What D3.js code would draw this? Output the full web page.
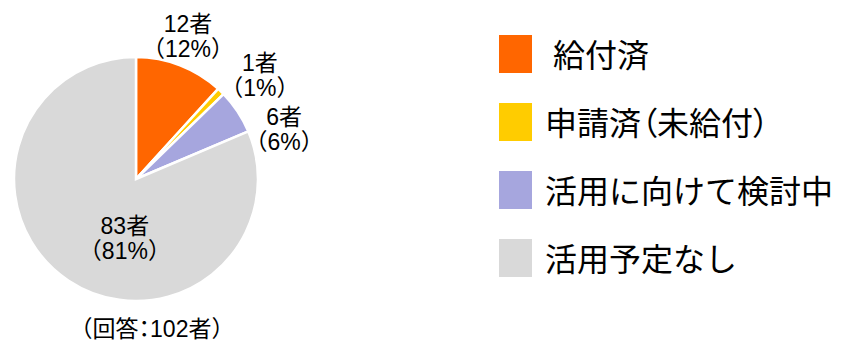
<!DOCTYPE html>
<html lang="ja">
<head>
<meta charset="utf-8">
<title>pie</title>
<script src="https://cdn.jsdelivr.net/npm/d3@7"></script>
<style>
  body { margin: 0; background: #fff; }
  text { font-family: "Liberation Sans", Arial, "Noto Sans CJK JP", sans-serif; fill: #000; }
  .palt { font-feature-settings: "palt"; }
</style>
</head>
<body>
<div id="chart"></div>
<script>
// data
var categories = ["給付済", "申請済（未給付）", "活用に向けて検討中", "活用予定なし"]
var counts = [12, 1, 6, 83]
var percents = [12, 1, 6, 81]
var colors = ["#FF6600", "#FFCC00", "#A6A6DE", "#D9D9D9"]
var total = 102

var w = 844, h = 342
var cx = 136, cy = 179, r = 122

var svg = d3.select("#chart").append("svg")
  .attr("width", w).attr("height", h)

var pie = d3.pie().sort(null).value(function(d){ return d })
var arcs = pie(counts)

var arc = d3.arc().innerRadius(0).outerRadius(r)

var g = svg.append("g").attr("transform", "translate(" + cx + "," + cy + ")")

g.selectAll("path")
  .data(arcs)
  .enter()
  .append("path")
  .attr("d", arc)
  .attr("fill", function(d, i){ return colors[i] })
  .attr("stroke", "#fff")
  .attr("stroke-width", 2.5)
  .attr("stroke-linejoin", "miter")

// labels: outside slices on a bigger arc, last one inside
var outArc = d3.arc().innerRadius(155).outerRadius(155)
var inArc = d3.arc().innerRadius(60).outerRadius(60)
// little hand nudges, like the original placed them
var nudge = [[-4, 2], [16, 7.5], [19, 36.5], [22, 9]]

// small helper: split brackets / colon out so only they get tight spacing
function tightMarks(sel, str){
  str.split(/(（|）|：)/).forEach(function(part){
    if (!part) return
    sel.append("tspan")
      .attr("class", part == "：" ? "palt" : null)
      .text(part)
  })
}

arcs.forEach(function(a, i){
  var c = (i < 3 ? outArc : inArc).centroid(a)
  var x = c[0] + nudge[i][0], y = c[1] + nudge[i][1]
  var t = g.append("text")
    .attr("text-anchor", "middle")
    .attr("font-size", 23)
  t.append("tspan").attr("x", x).attr("y", y - 12.5).attr("dy", "0.35em").text(counts[i] + "者")
  t.append("tspan").attr("x", x).attr("y", y + 12.5).attr("dy", "0.35em").text("（" + percents[i] + "%）")
})

var foot = svg.append("text")
  .attr("x", 152).attr("y", 329)
  .attr("dy", "0.35em")
  .attr("text-anchor", "middle")
  .attr("font-size", 23)
tightMarks(foot, "（回答：" + total + "者）")

// legend
var legend = svg.append("g").attr("transform", "translate(499,35)")
var rows = legend.selectAll("g")
  .data(categories)
  .enter()
  .append("g")
  .attr("transform", function(d, i){ return "translate(0," + (i * 68) + ")" })

rows.append("rect")
  .attr("width", 33).attr("height", 38)
  .attr("fill", function(d, i){ return colors[i] })

rows.append("text")
  .attr("x", function(d, i){ return i == 0 ? 54 : 46 })
  .attr("y", 20)
  .attr("dy", "0.36em")
  .attr("font-size", 32)
  .style("font-family", "'Noto Sans CJK JP', sans-serif")
  .each(function(d){
    // only the brackets get the tight spacing, the kana keep full width
    var el = d3.select(this)
    d.split(/(（|）)/).forEach(function(part){
      if (!part) return
      el.append("tspan")
        .attr("class", part == "（" || part == "）" ? "palt" : null)
        .text(part)
    })
  })
</script>
</body>
</html>
